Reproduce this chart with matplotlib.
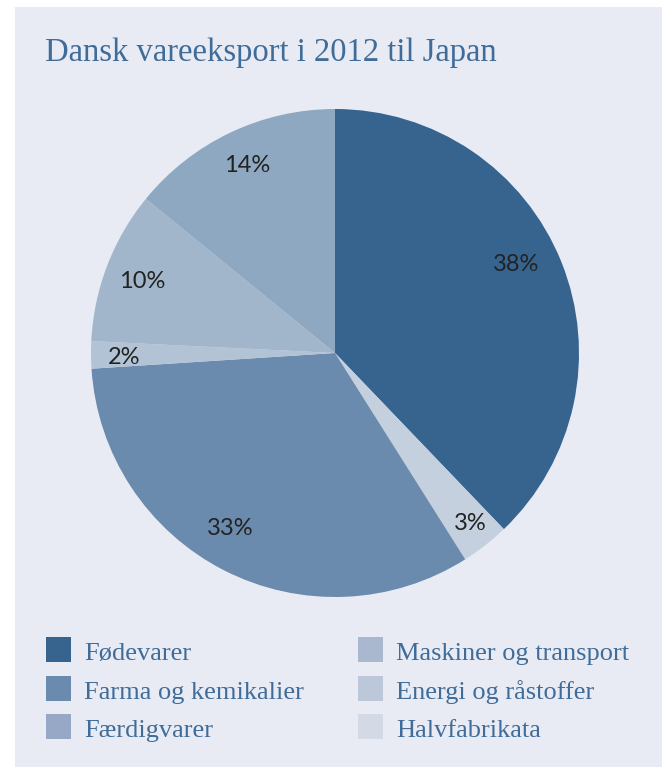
import matplotlib
matplotlib.use("Agg")
import matplotlib.pyplot as plt
from matplotlib.patches import Rectangle

# ---- data ----
title = "Dansk vareeksport i 2012 til Japan"
slice_names = ["Fødevarer", "Halvfabrikata", "Farma og kemikalier",
               "Energi og råstoffer", "Maskiner og transport", "Færdigvarer"]
slice_values = [37.8, 3.2, 32.9, 1.8, 10.1, 14.1]
slice_colors = ["#36648f", "#c5d0df", "#6a8bad", "#b3c3d6", "#a2b6cb", "#8ea8c1"]

legend_names = ["Fødevarer", "Farma og kemikalier", "Færdigvarer",
                "Maskiner og transport", "Energi og råstoffer", "Halvfabrikata"]
legend_colors = ["#36648f", "#6a8bad", "#97a8c6", "#a9b7cf", "#bcc7d9", "#d3dae5"]

# small label nudges (pixels, x right / y down) to match the reference placement
label_nudge = [(-11, -11), (8, 7), (-11, -9), (-3, 3), (1, 3), (1, 0)]

W, H = 662, 767
fig = plt.figure(figsize=(W / 100, H / 100), dpi=100, facecolor="white")

def fx(px):
    return px / W

def fy(py):
    return (H - py) / H

# panel background
fig.patches.append(Rectangle((fx(15), 0), 1 - fx(15), fy(7), transform=fig.transFigure,
                             facecolor="#e9ebf4", edgecolor="none", zorder=-10))

text_color = "#3f6c98"
fig.text(fx(45), fy(61), title, fontsize=23.5, family="Liberation Serif",
         color=text_color, va="baseline", ha="left")

# pie
cx, cy, r = 335, 353, 244
ax = fig.add_axes([fx(cx - r), fy(cy + r), 2 * r / W, 2 * r / H], zorder=1)
ax.set_facecolor("none")
wedges, texts, autotexts = ax.pie(
    slice_values, colors=slice_colors, startangle=90, counterclock=False,
    autopct=lambda p: f"{round(p)}%", pctdistance=0.85,
    wedgeprops=dict(linewidth=0),
    textprops=dict(fontsize=17, color="#222222", family="Lato"))
ax.set_xlim(-1, 1)
ax.set_ylim(-1, 1)
ax.set_aspect("equal")
ax.axis("off")
for t, (dx, dy) in zip(autotexts, label_nudge):
    x, y = t.get_position()
    t.set_position((x + dx / r, y - dy / r))

# legend
col_x = [46, 358]
row_top = [637, 676, 714]
sq = 25
for i, (name, col) in enumerate(zip(legend_names, legend_colors)):
    c, rw = divmod(i, 3)
    x0 = col_x[c]
    y0 = row_top[rw]
    fig.patches.append(Rectangle((fx(x0), fy(y0 + sq)), sq / W, sq / H,
                                 transform=fig.transFigure, facecolor=col,
                                 edgecolor="none", zorder=2))
    fig.text(fx(x0 + sq + 13), fy(y0 + 23), name, fontsize=19,
             family="Liberation Serif", color=text_color, va="baseline", ha="left")

fig.savefig("out.png", dpi=100, facecolor=fig.get_facecolor())
